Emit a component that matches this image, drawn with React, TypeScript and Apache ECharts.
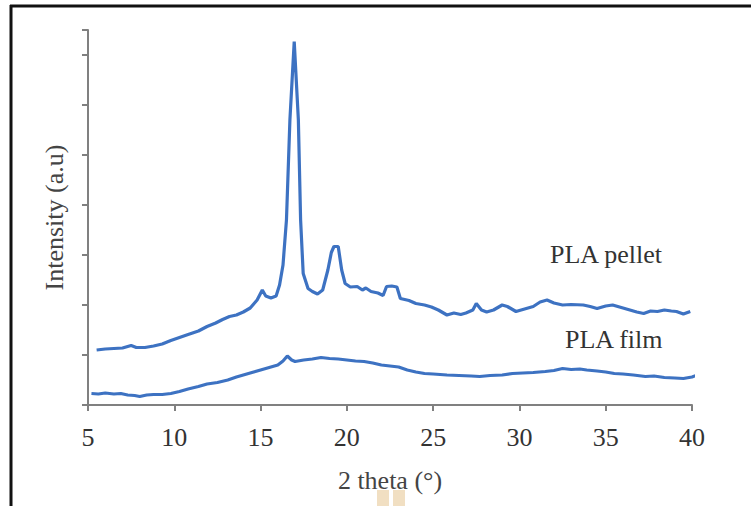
import React, { useEffect, useRef } from "react";
import * as echarts from "echarts";

// 2θ positions (degrees) and intensities (a.u.)
const pelletTheta = [
  5.5, 6.0, 6.5, 7.0, 7.5, 7.8, 8.3, 8.8, 9.3, 9.8, 10.3, 10.8, 11.4, 11.9, 12.4, 12.8, 13.2, 13.6, 14.0, 14.4,
  14.8, 15.1, 15.3, 15.6, 15.9, 16.1, 16.3, 16.5, 16.7, 16.95, 17.19, 17.32, 17.47, 17.75, 18.0, 18.3, 18.6, 18.9,
  19.1, 19.25, 19.5, 19.7, 19.9, 20.2, 20.6, 20.9, 21.1, 21.4, 21.8, 22.1, 22.3, 22.6, 22.9, 23.1, 23.6, 24.0,
  24.5, 24.9, 25.3, 25.8, 26.2, 26.6, 26.9, 27.3, 27.5, 27.8, 28.1, 28.5, 29.0, 29.3, 29.8, 30.3, 30.8, 31.2,
  31.6, 32.0, 32.5, 33.0, 33.7, 34.1, 34.5, 35.0, 35.4, 35.9, 36.4, 36.8, 37.2, 37.6, 38.0, 38.4, 38.8, 39.1,
  39.5, 39.9,
];
const pelletIntensity = [
  1.10, 1.12, 1.13, 1.14, 1.19, 1.15, 1.15, 1.18, 1.22, 1.29, 1.35, 1.41, 1.48, 1.57, 1.64, 1.71, 1.77, 1.80, 1.86, 1.94,
  2.10, 2.30, 2.18, 2.14, 2.18, 2.40, 2.80, 3.70, 5.70, 7.27, 5.70, 3.70, 2.63, 2.33, 2.27, 2.22, 2.30, 2.70,
  3.05, 3.17, 3.17, 2.70, 2.43, 2.36, 2.37, 2.30, 2.34, 2.27, 2.24, 2.19, 2.37, 2.38, 2.36, 2.13, 2.09, 2.03,
  2.00, 1.96, 1.90, 1.80, 1.84, 1.81, 1.84, 1.90, 2.03, 1.90, 1.86, 1.90, 2.00, 1.97, 1.87, 1.92, 1.97, 2.06,
  2.10, 2.04, 2.00, 2.01, 2.00, 1.97, 1.93, 1.98, 2.00, 1.95, 1.90, 1.86, 1.83, 1.88, 1.87, 1.90, 1.88, 1.87,
  1.82, 1.87,
];
const filmTheta = [
  5.2, 5.6, 6.0, 6.5, 6.9, 7.3, 7.7, 8.0, 8.4, 8.8, 9.3, 9.8, 10.3, 10.8, 11.4, 11.9, 12.5, 13.1, 13.6, 14.1,
  14.6, 15.0, 15.5, 16.0, 16.3, 16.55, 16.8, 17.0, 17.5, 18.0, 18.5, 19.0, 19.5, 20.0, 20.5, 21.0, 21.5, 22.0,
  22.5, 23.0, 23.5, 24.0, 24.5, 25.0, 25.8, 26.5, 27.2, 27.7, 28.3, 29.0, 29.6, 30.2, 30.8, 31.5, 32.0, 32.5,
  33.0, 33.5, 33.9, 34.5, 35.0, 35.5, 36.0, 36.6, 37.3, 37.8, 38.4, 39.0, 39.5, 40.0, 40.3,
];
const filmIntensity = [
  0.23, 0.22, 0.24, 0.22, 0.23, 0.20, 0.19, 0.17, 0.20, 0.21, 0.21, 0.23, 0.27, 0.32, 0.37, 0.42, 0.45, 0.50, 0.56, 0.61,
  0.66, 0.70, 0.75, 0.80, 0.88, 0.98, 0.90, 0.87, 0.90, 0.92, 0.95, 0.93, 0.92, 0.90, 0.88, 0.87, 0.84, 0.80,
  0.78, 0.76, 0.70, 0.66, 0.63, 0.62, 0.60, 0.59, 0.58, 0.57, 0.59, 0.60, 0.63, 0.64, 0.65, 0.67, 0.69, 0.73,
  0.71, 0.72, 0.70, 0.68, 0.66, 0.63, 0.62, 0.60, 0.57, 0.58, 0.55, 0.54, 0.53, 0.56, 0.60,
];
const seriesNames = ["PLA pellet", "PLA film"];
const xTitle = "2 theta (°)";
const yTitle = "Intensity (a.u)";

const zip = (xs: number[], ys: number[]) => xs.map((x, i) => [x, ys[i]]);

export default function App() {
  const ref = useRef<HTMLDivElement>(null);
  useEffect(() => {
    if (!ref.current) return;
    const chart = echarts.init(ref.current, undefined, { renderer: "svg" });
    const font = "'Liberation Serif', 'Times New Roman', serif";
    const lineColor = "#3d72c2";
    chart.setOption({
      animation: false,
      backgroundColor: "#ffffff",
      grid: { left: 88, right: 59, top: 30, bottom: 101, containLabel: false },
      xAxis: {
        type: "value",
        min: 5,
        max: 40,
        interval: 5,
        name: xTitle,
        nameLocation: "middle",
        nameGap: 62,
        nameTextStyle: { fontFamily: font, fontSize: 26, color: "#444" },
        axisLine: { lineStyle: { color: "#808080", width: 2 } },
        axisTick: { show: true, length: 6, lineStyle: { color: "#808080", width: 2 } },
        axisLabel: { fontFamily: font, fontSize: 26, color: "#333", margin: 19 },
        splitLine: { show: false },
      },
      yAxis: {
        type: "value",
        min: 0,
        max: 7.5,
        interval: 1,
        name: yTitle,
        nameLocation: "middle",
        nameGap: 21,
        nameTextStyle: { fontFamily: font, fontSize: 26, color: "#444" },
        axisLine: { show: true, lineStyle: { color: "#808080", width: 2 } },
        axisTick: { show: true, length: 6, lineStyle: { color: "#808080", width: 2 } },
        axisLabel: { show: false },
        splitLine: { show: false },
      },
      series: [
        {
          name: seriesNames[0],
          type: "line",
          data: zip(pelletTheta, pelletIntensity),
          showSymbol: false,
          clip: false,
          lineStyle: { color: lineColor, width: 3.2 },
        },
        {
          name: seriesNames[1],
          type: "line",
          data: zip(filmTheta, filmIntensity),
          showSymbol: false,
          clip: false,
          lineStyle: { color: lineColor, width: 3.2 },
        },
      ],
      graphic: [
        { type: "line", shape: { x1: 10, y1: 6, x2: 751, y2: 6 }, style: { stroke: "#111", lineWidth: 3 } },
        { type: "line", shape: { x1: 11, y1: 5, x2: 11, y2: 506 }, style: { stroke: "#111", lineWidth: 3 } },
        { type: "rect", shape: { x: 377, y: 490, width: 12, height: 16 }, style: { fill: "#f1dfc2" } },
        { type: "rect", shape: { x: 393, y: 490, width: 12, height: 16 }, style: { fill: "#f1dfc2" } },
        {
          type: "text",
          left: 550,
          top: 241,
          style: { text: seriesNames[0], fontFamily: font, fontSize: 26, fill: "#333" },
        },
        {
          type: "text",
          left: 565,
          top: 326,
          style: { text: seriesNames[1], fontFamily: font, fontSize: 26, fill: "#333" },
        },
      ],
    });
    return () => chart.dispose();
  }, []);
  return (
    <div
      ref={ref}
      style={{ position: "fixed", left: 0, top: 0, width: 751, height: 506, background: "#fff" }}
    />
  );
}
